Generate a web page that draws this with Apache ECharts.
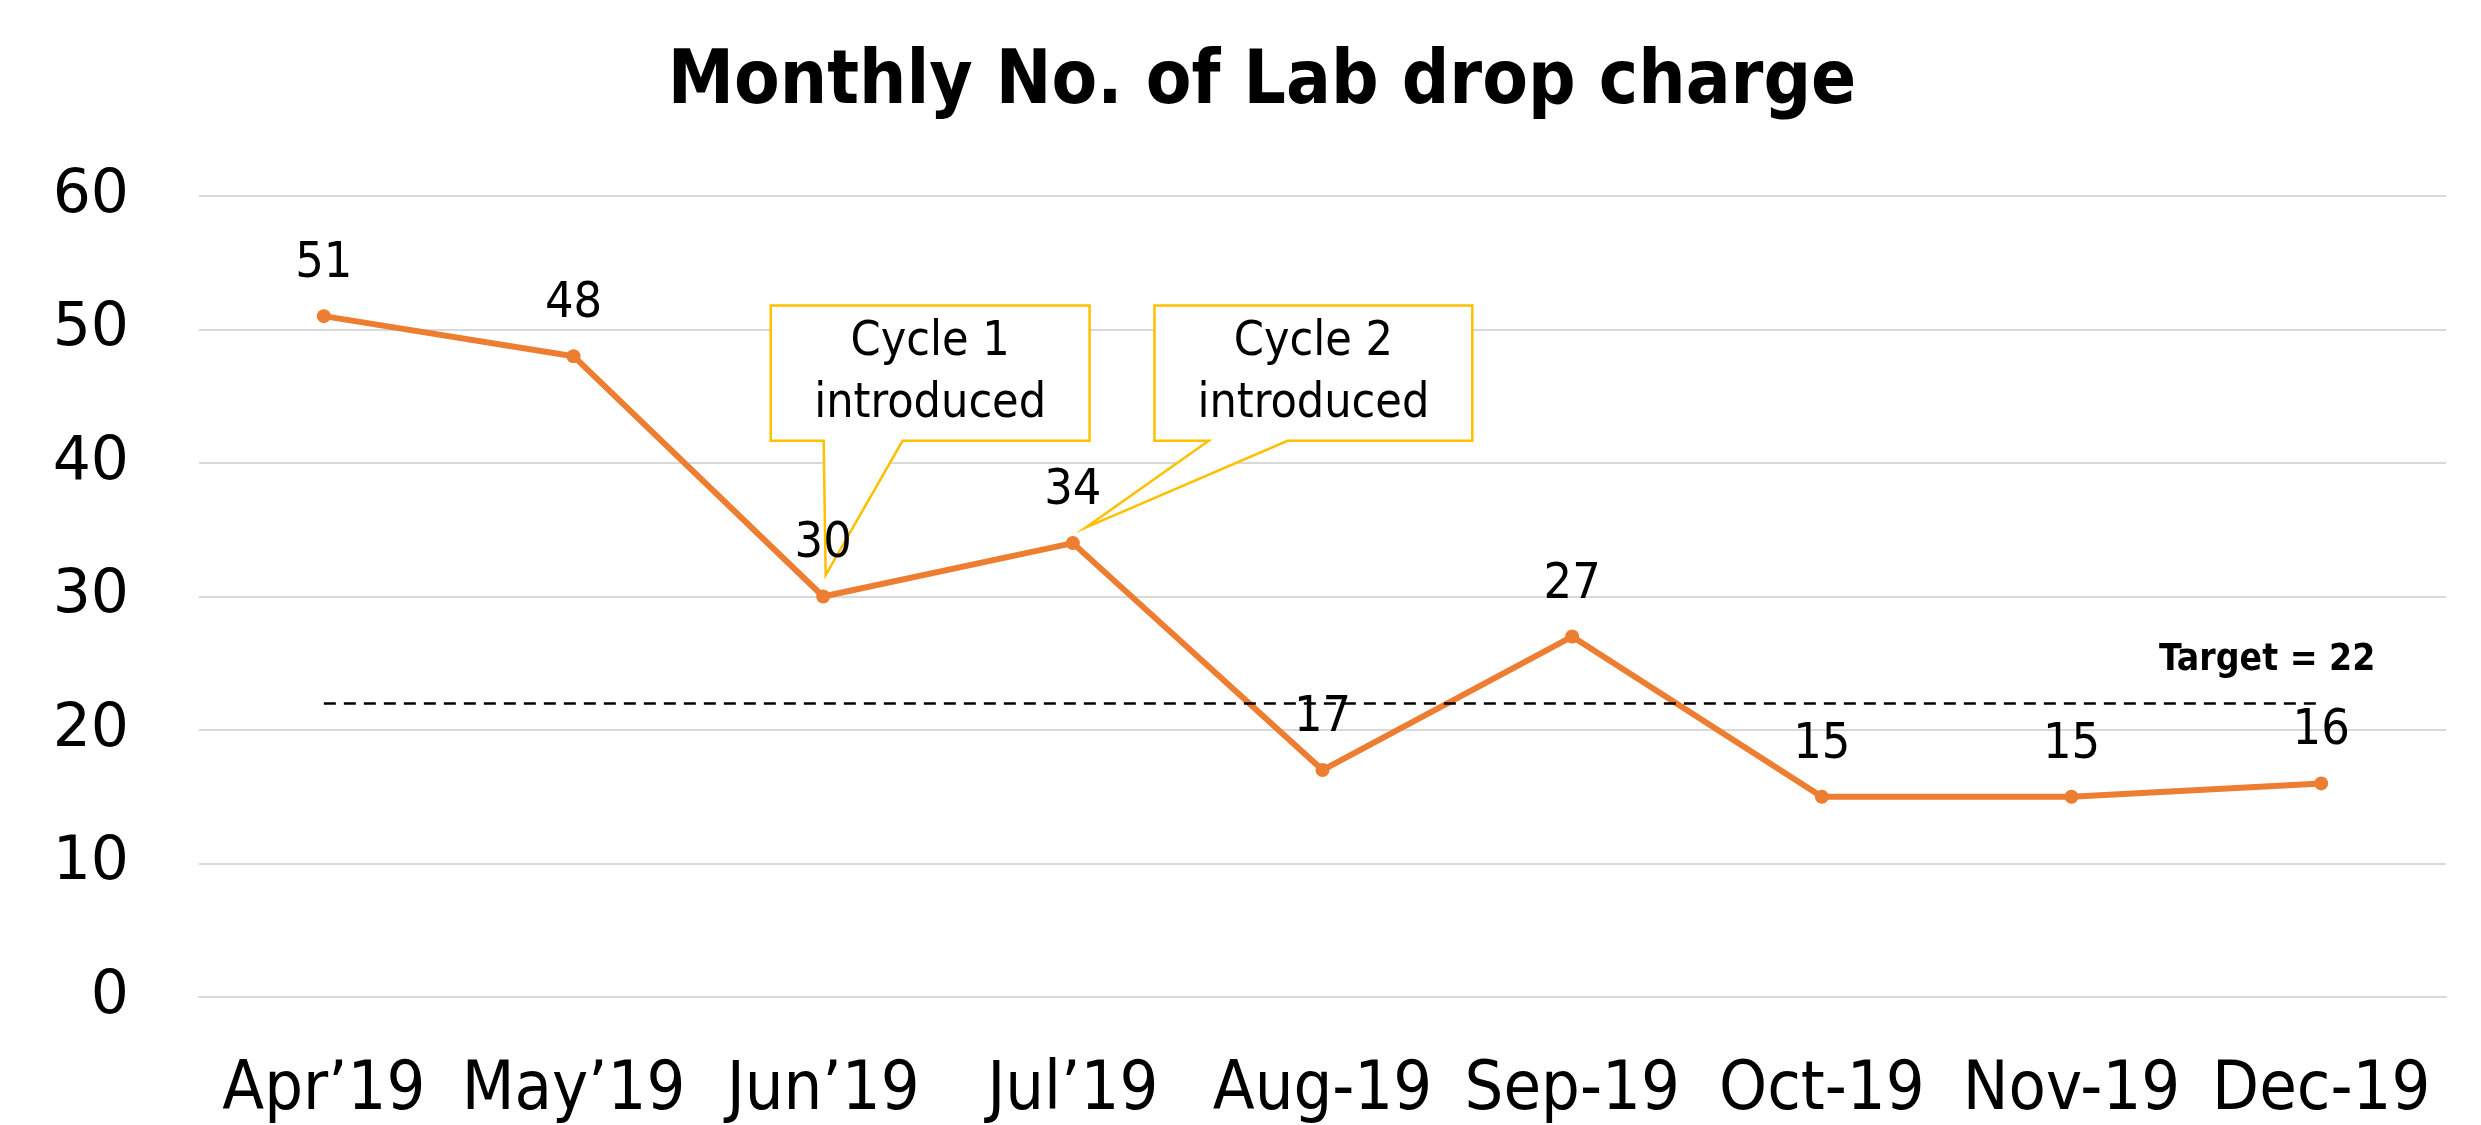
<!DOCTYPE html>
<html><head><meta charset="utf-8">
<script src="https://cdn.jsdelivr.net/npm/echarts@6/dist/echarts.min.js"></script>
<style>html,body{margin:0;padding:0;background:#fff}#c{width:2481px;height:1125px}</style>
</head><body><div id="c"></div>
<script>
const months = ["Apr\u201919","May\u201919","Jun\u201919","Jul\u201919","Aug-19","Sep-19","Oct-19","Nov-19","Dec-19"];
const charges = [51,48,30,34,17,27,15,15,16];
const target = 22;
const yTicks = [0,10,20,30,40,50,60];
// callouts: [left idx, right idx, top value, bottom value, tail base1 idx, tail base2 idx, tip idx, tip value, line1, line2]
const callouts = [
  [1.79, 3.067, 51.8, 41.66, 2.002, 2.318, 2.01, 31.6, "Cycle 1", "introduced"],
  [3.327, 4.60, 51.8, 41.66, 3.544, 3.86, 3.051, 35.15, "Cycle 2", "introduced"]
];
const NARROW = '"DejaVu Sans Condensed","Liberation Sans Narrow","Noto Sans",sans-serif';
const chart = echarts.init(document.getElementById('c'));
chart.setOption({
  animation:false,
  title:{text:"Monthly No. of Lab drop charge",left:1257,top:42,textAlign:'center',
    textStyle:{fontFamily:NARROW,fontWeight:'bold',fontSize:74,color:'#000'}},
  grid:{left:199,right:35,top:196,bottom:127},
  xAxis:{type:'category',data:months,boundaryGap:true,
    axisLine:{show:true,lineStyle:{color:'#D9D9D9',width:2}},axisTick:{show:false},
    axisLabel:{interval:0,fontFamily:NARROW,fontSize:68,color:'#000',margin:60}},
  yAxis:{type:'value',min:yTicks[0],max:yTicks[yTicks.length-1],interval:10,
    axisLine:{show:false},axisTick:{show:false},
    splitLine:{lineStyle:{color:'#D9D9D9',width:2}},
    axisLabel:{fontFamily:'"DejaVu Sans",sans-serif',fontSize:60,color:'#000',margin:70}},
  series:[
    {type:'custom',data:callouts,z:1,silent:true,
     renderItem:function(params,api){
       const d = callouts[params.dataIndex];
       const x0 = api.coord([0,0])[0];
       const step = api.coord([1,0])[0]-x0;
       const p = (x,y)=>[x0+x*step, api.coord([0,y])[1]];
       const TL=p(d[0],d[2]), BR=p(d[1],d[3]);
       const b1=p(d[4],d[3]), b2=p(d[5],d[3]), tip=p(d[6],d[7]);
       const pts=[[TL[0],TL[1]],[BR[0],TL[1]],[BR[0],BR[1]],[b2[0],BR[1]],[tip[0],tip[1]],[b1[0],BR[1]],[TL[0],BR[1]]];
       const cx=(TL[0]+BR[0])/2, cy=(TL[1]+BR[1])/2;
       return {type:'group',children:[
         {type:'polygon',shape:{points:pts},style:{fill:'#fff',stroke:'#FFC000',lineWidth:2.5}},
         {type:'text',x:cx,y:cy,style:{text:d[8]+'\n'+d[9],align:'center',verticalAlign:'middle',
           font:'48px '+NARROW,lineHeight:62,fill:'#000'}}
       ]};
     }},
    {type:'line',data:charges,z:3,symbol:'circle',symbolSize:14,
     itemStyle:{color:'#ED7D31'},lineStyle:{color:'#ED7D31',width:6},
     label:{show:true,position:'top',distance:20,fontFamily:NARROW,fontSize:50,color:'#000'},
     markLine:{symbol:'none',silent:true,label:{show:false},
       lineStyle:{color:'#000',type:[12,8],width:2.5},
       data:[[{coord:[0,target]},{coord:[months.length-1,target]}]]},
     markPoint:{symbol:'circle',symbolSize:0,silent:true,
       data:[{coord:[months.length-1,target],
         label:{show:true,formatter:'Target = '+target,offset:[-54,-43],
           fontFamily:NARROW,fontWeight:'bold',fontSize:37,color:'#000'}}]}
    }
  ]
});
</script></body></html>
